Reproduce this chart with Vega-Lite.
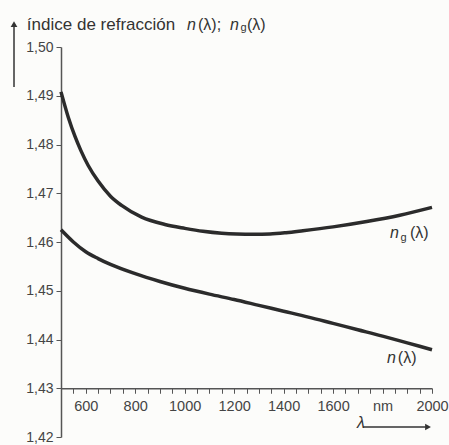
{
  "$schema": "https://vega.github.io/schema/vega-lite/v6.json",
  "width": 371,
  "height": 390,
  "autosize": {"type": "none"},
  "padding": {"left": 61, "top": 47, "right": 17, "bottom": 8},
  "background": "#fcfcfa",
  "config": {
    "view": {"stroke": null},
    "axis": {"labelFont": "Liberation Sans", "labelColor": "#444", "domainColor": "#555", "tickColor": "#555", "grid": false, "title": null}
  },
  "encoding": {
    "x": {"field": "x", "type": "quantitative",
          "scale": {"domain": [500, 2000], "nice": false, "zero": false},
          "axis": {"values": [500,550,600,650,700,750,800,850,900,950,1000,1050,1100,1150,1200,1250,1300,1350,1400,1450,1500,1550,1600,1650,1700,1750,1800,1850,1900,1950,2000],
                   "labelExpr": "datum.value == 1800 ? 'nm' : (datum.value % 200 == 0 ? format(datum.value, 'd') : '')",
                   "offset": -48.75, "tickSize": 5, "domainWidth": 1.5, "labelPadding": 6, "labelFontSize": 14.5, "labelFlush": false, "labelOverlap": false}},
    "y": {"field": "y", "type": "quantitative",
          "scale": {"domain": [1.42, 1.50], "nice": false, "zero": false},
          "axis": {"values": [1.42,1.43,1.44,1.45,1.46,1.47,1.48,1.49,1.50],
                   "labelExpr": "replace(format(datum.value, '.2f'), '.', ',')",
                   "tickSize": 5, "domainWidth": 1.5, "labelPadding": 3, "labelFontSize": 14}}
  },
  "layer": [
    {
      "data": {"values": [
        {"x": 500, "y": 1.4908, "s": "ng"},
        {"x": 530, "y": 1.4855, "s": "ng"},
        {"x": 557, "y": 1.4816, "s": "ng"},
        {"x": 580, "y": 1.4788, "s": "ng"},
        {"x": 610, "y": 1.4757, "s": "ng"},
        {"x": 650, "y": 1.4725, "s": "ng"},
        {"x": 700, "y": 1.4694, "s": "ng"},
        {"x": 745, "y": 1.4675, "s": "ng"},
        {"x": 826, "y": 1.4651, "s": "ng"},
        {"x": 920, "y": 1.4636, "s": "ng"},
        {"x": 1001, "y": 1.4628, "s": "ng"},
        {"x": 1074, "y": 1.4622, "s": "ng"},
        {"x": 1150, "y": 1.4618, "s": "ng"},
        {"x": 1210, "y": 1.46165, "s": "ng"},
        {"x": 1280, "y": 1.4616, "s": "ng"},
        {"x": 1345, "y": 1.46165, "s": "ng"},
        {"x": 1410, "y": 1.4619, "s": "ng"},
        {"x": 1478, "y": 1.4623, "s": "ng"},
        {"x": 1600, "y": 1.4631, "s": "ng"},
        {"x": 1736, "y": 1.4642, "s": "ng"},
        {"x": 1870, "y": 1.4655, "s": "ng"},
        {"x": 2000, "y": 1.4671, "s": "ng"},
        {"x": 500, "y": 1.4625, "s": "n"},
        {"x": 550, "y": 1.4600, "s": "n"},
        {"x": 600, "y": 1.4580, "s": "n"},
        {"x": 650, "y": 1.4566, "s": "n"},
        {"x": 700, "y": 1.4554, "s": "n"},
        {"x": 800, "y": 1.4535, "s": "n"},
        {"x": 900, "y": 1.4519, "s": "n"},
        {"x": 1000, "y": 1.4505, "s": "n"},
        {"x": 1100, "y": 1.4493, "s": "n"},
        {"x": 1200, "y": 1.4482, "s": "n"},
        {"x": 1300, "y": 1.4470, "s": "n"},
        {"x": 1400, "y": 1.4458, "s": "n"},
        {"x": 1500, "y": 1.4446, "s": "n"},
        {"x": 1600, "y": 1.4433, "s": "n"},
        {"x": 1700, "y": 1.4420, "s": "n"},
        {"x": 1800, "y": 1.4407, "s": "n"},
        {"x": 1900, "y": 1.4393, "s": "n"},
        {"x": 2000, "y": 1.4379, "s": "n"}
      ]},
      "mark": {"type": "line", "color": "#2b2b2b", "strokeWidth": 3.5, "interpolate": "monotone"},
      "encoding": {"detail": {"field": "s"}}
    },
    {
      "data": {"values": [
        {"x": 310, "y": 1.4918, "x2": 310, "y2": 1.5044},
        {"x": 1721, "y": 1.42205, "x2": 1975, "y2": 1.42205}
      ]},
      "mark": {"type": "rule", "color": "#333", "strokeWidth": 1.5, "clip": false},
      "encoding": {"x2": {"field": "x2"}, "y2": {"field": "y2"}}
    },
    {
      "data": {"values": [{"x": 310, "y": 1.5047}]},
      "mark": {"type": "point", "shape": "triangle-up", "filled": true, "color": "#333", "size": 45, "opacity": 1, "clip": false}
    },
    {
      "data": {"values": [{"x": 1984, "y": 1.42205}]},
      "mark": {"type": "point", "shape": "triangle-right", "filled": true, "color": "#333", "size": 45, "opacity": 1, "clip": false}
    },
    {
      "data": {"values": [
        {"x": 362, "y": 1.50451, "t": "índice de refracción"}
      ]},
      "mark": {"type": "text", "font": "Liberation Sans", "fontSize": 17, "color": "#333", "align": "left", "baseline": "middle"},
      "encoding": {"text": {"field": "t"}}
    },
    {
      "data": {"values": [
        {"x": 1054, "y": 1.50451, "t": "(λ);"},
        {"x": 1252, "y": 1.50451, "t": "(λ)"},
        {"x": 1911, "y": 1.46185, "t": "(λ)"},
        {"x": 1862, "y": 1.43621, "t": "(λ)"}
      ]},
      "mark": {"type": "text", "font": "Liberation Sans", "fontSize": 16, "color": "#333", "align": "left", "baseline": "middle"},
      "encoding": {"text": {"field": "t"}}
    },
    {
      "data": {"values": [
        {"x": 1009, "y": 1.50451, "t": "n"},
        {"x": 1183, "y": 1.50451, "t": "n"},
        {"x": 1830, "y": 1.46185, "t": "n"},
        {"x": 1818, "y": 1.43621, "t": "n"},
        {"x": 1697, "y": 1.42287, "t": "λ"}
      ]},
      "mark": {"type": "text", "font": "Liberation Sans", "fontSize": 16, "fontStyle": "italic", "color": "#333", "align": "left", "baseline": "middle"},
      "encoding": {"text": {"field": "t"}}
    },
    {
      "data": {"values": [
        {"x": 1226, "y": 1.5039, "t": "g"},
        {"x": 1873, "y": 1.46082, "t": "g"}
      ]},
      "mark": {"type": "text", "font": "Liberation Sans", "fontSize": 11, "color": "#333", "align": "left", "baseline": "middle"},
      "encoding": {"text": {"field": "t"}}
    }
  ]
}
